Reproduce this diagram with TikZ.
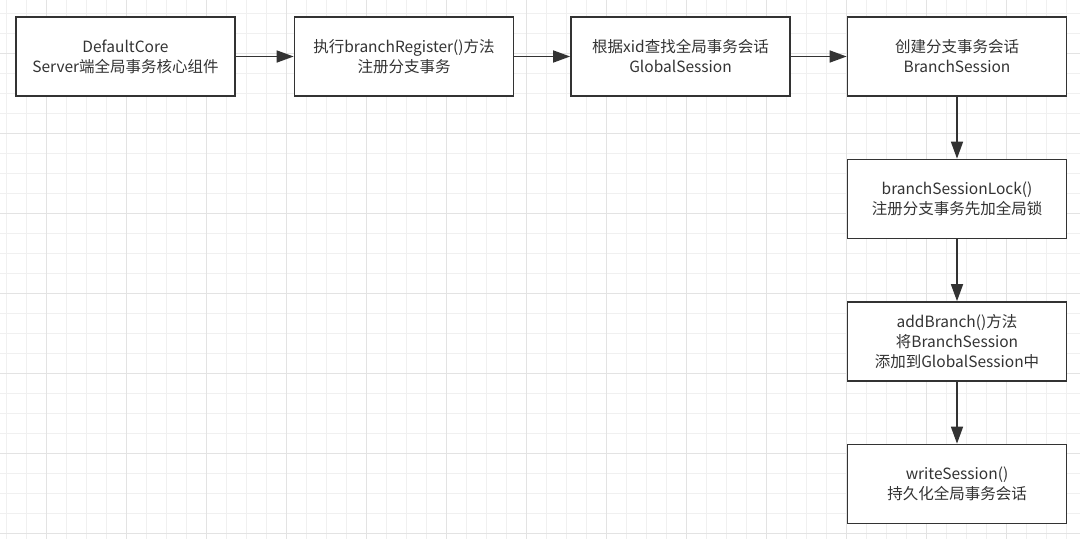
\documentclass[tikz,border=0pt]{standalone}
\usepackage{fontspec}
\setmainfont{Noto Sans CJK SC}
\usetikzlibrary{arrows.meta}
\definecolor{dLine}{HTML}{333333}
\definecolor{dText}{HTML}{333333}
\definecolor{gFine}{HTML}{F0F0F0}
\definecolor{gMajor}{HTML}{E3E3E3}
\tikzset{
  nd/.style  = {draw=dLine, line width=1.7pt, fill=white, align=center,
                minimum width=219pt, minimum height=79pt, inner sep=0pt,
                font=\fontsize{15.5}{20}\selectfont, text=dText},
  ar/.style  = {-{Triangle[length=17pt,width=12pt]}, draw=dLine, line width=1.6pt},
  gf/.style  = {draw=gFine, line width=1pt},
  gm/.style  = {draw=gMajor, line width=1.2pt},
}
\begin{document}
\begin{tikzpicture}[x=1pt, y=-1pt]
  \useasboundingbox (0,0) rectangle (1080,539);
  % background grid
  \foreach \gx in {0,...,53} \draw[gf] (6.7+20*\gx,0) -- (6.7+20*\gx,539);
  \foreach \gy in {0,...,26} \draw[gf] (0,13.3+20*\gy) -- (1080,13.3+20*\gy);
  \foreach \gx in {0,...,13} \draw[gm] (46.7+80*\gx,0) -- (46.7+80*\gx,539);
  \foreach \gy in {0,...,6} \draw[gm] (0,53.3+80*\gy) -- (1080,53.3+80*\gy);

  \node[nd] (core)   at (125.5,56.5) {DefaultCore\\Server端全局事务核心组件};
  \node[nd] (reg)    at (404,56.5)   {执行branchRegister()方法\\注册分支事务};
  \node[nd] (gsess)  at (680.5,56.5) {根据xid查找全局事务会话\\GlobalSession};
  \node[nd] (bsess)  at (957,56.5)   {创建分支事务会话\\BranchSession};
  \node[nd] (lock)   at (957,199)    {branchSessionLock()\\注册分支事务先加全局锁};
  \node[nd] (add)    at (957,341.5)  {addBranch()方法\\将BranchSession\\添加到GlobalSession中};
  \node[nd] (write)  at (957,484)    {writeSession()\\持久化全局事务会话};

  \draw[ar] (core) -- (reg);
  \draw[ar] (reg) -- (gsess);
  \draw[ar] (gsess) -- (bsess);
  \draw[ar] (bsess) -- (lock);
  \draw[ar] (lock) -- (add);
  \draw[ar] (add) -- (write);
\end{tikzpicture}
\end{document}
